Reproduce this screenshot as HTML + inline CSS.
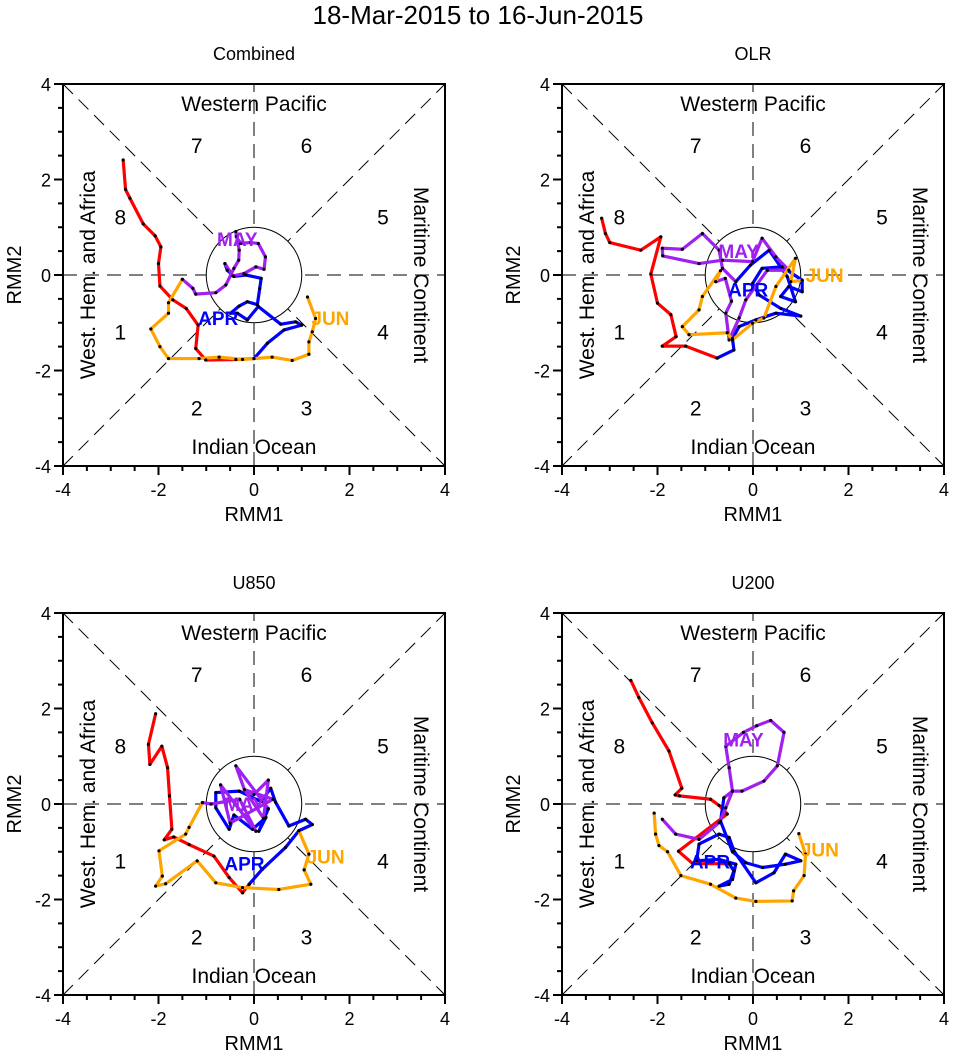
<!DOCTYPE html>
<html><head><meta charset="utf-8"><style>
body{margin:0;background:#fff}
svg text{font-family:"Liberation Sans",sans-serif;fill:#000}
</style></head><body>
<svg id="chart" width="956" height="1055" viewBox="0 0 956 1055" xmlns="http://www.w3.org/2000/svg">
<text x="478" y="24" font-size="26" text-anchor="middle">18-Mar-2015 to 16-Jun-2015</text>
</svg>
<script>
const panelTitles = ["Combined","OLR","U850","U200"];
const tickValues = [-4,-2,0,2,4];
const monthColors = ["#ff0000","#0000ff","#a020f0","#ffa500"];
const monthNames = ["MAR","APR","MAY","JUN"];
const p1Mar = [[-2.74,2.41],[-2.69,1.79],[-2.60,1.61],[-2.32,1.07],[-2.07,0.82],[-1.95,0.59],[-2.0,0.24],[-1.97,-0.23],[-1.70,-0.52],[-1.42,-0.70],[-1.17,-1.05],[-1.22,-1.54],[-1.01,-1.78],[-0.38,-1.77],[0,-1.75]];
const p1Apr = [[0,-1.75],[0.28,-1.43],[0.63,-1.15],[1.0,-1.05],[0.87,-0.98],[0.56,-1.03],[0.09,-0.66],[-0.14,-0.94],[-0.35,-0.80],[-0.49,-0.80],[-0.31,-0.65],[-0.14,-0.56],[0.07,-0.62],[0.12,-0.28],[0.15,-0.07],[-0.17,0.0],[-0.42,-0.03],[-0.56,0.10],[-0.61,0.24]];
const p1May = [[-0.61,0.24],[-0.44,-0.02],[-0.21,0.03],[0.04,0.17],[0.21,0.12],[0.24,0.38],[0.09,0.66],[-0.07,0.68],[-0.28,0.66],[-0.37,0.80],[-0.38,0.91],[-0.31,0.52],[-0.32,0.31],[-0.42,0.14],[-0.59,-0.21],[-0.80,-0.37],[-1.22,-0.40],[-1.28,-0.28],[-1.50,-0.09]];
const p1Jun = [[-1.50,-0.09],[-1.79,-0.58],[-1.79,-0.80],[-2.16,-1.13],[-1.97,-1.50],[-1.79,-1.75],[-1.15,-1.75],[-0.73,-1.72],[-0.24,-1.77],[0.38,-1.72],[0.80,-1.79],[1.15,-1.66],[1.15,-1.40],[1.22,-1.19],[1.29,-0.91],[1.12,-0.46]];
const p2Mar = [[-3.17,1.19],[-3.09,0.87],[-3.0,0.68],[-2.35,0.52],[-1.93,0.80],[-2.14,0.02],[-2.0,-0.59],[-1.72,-0.83],[-1.61,-1.29],[-1.90,-1.49],[-1.41,-1.49],[-0.75,-1.74]];
const p2Apr = [[-0.75,-1.74],[-0.40,-1.57],[-0.43,-1.33],[-0.29,-1.08],[0.06,-0.94],[0.48,-0.80],[1.0,-0.86],[0.58,-0.70],[0.13,-0.42],[-0.01,-0.18],[0.19,0.14],[0.61,0.17],[1.03,-0.11],[1.03,-0.35],[0.75,-0.24],[0.58,-0.45],[0.89,-0.56],[0.72,-0.04],[0.34,0.52],[-0.05,0.21],[-0.36,-0.14]];
const p2May = [[-0.36,-0.14],[-0.64,0.14],[-0.71,0.52],[-1.06,0.87],[-1.48,0.54],[-1.90,0.56],[-1.89,0.40],[-1.13,0.24],[-0.64,0.31],[-0.01,0.28],[0.19,0.77],[0.48,0.38],[0.75,0.10],[0.30,0.10],[-0.15,-0.52],[-0.29,-0.90],[-0.50,-1.36],[-0.57,-0.80],[-0.45,-0.55],[-0.58,-0.07],[-0.78,-0.14]];
const p2Jun = [[-0.78,-0.14],[-0.68,0.09],[-1.06,-0.45],[-1.13,-0.73],[-1.48,-1.08],[-1.34,-1.25],[-0.54,-1.21],[-0.43,-1.36],[-0.01,-1.01],[0.23,-0.90],[0.48,-0.24],[0.89,0.35],[0.79,-0.14],[1.03,-0.11]];
const p3Mar = [[-2.06,1.89],[-2.21,1.25],[-2.18,0.83],[-1.93,1.21],[-1.81,0.76],[-1.77,0.17],[-1.72,-0.53],[-1.88,-0.75],[-1.68,-0.69],[-1.36,-0.85],[-0.84,-1.09],[-0.52,-1.54],[-0.24,-1.86],[-0.10,-1.68]];
const p3Apr = [[-0.10,-1.68],[0.17,-1.37],[0.66,-0.91],[0.94,-0.56],[1.22,-0.43],[1.08,-0.32],[0.73,-0.46],[0.45,0.04],[0.35,0.33],[0.15,0.05],[-0.31,0.27],[-0.80,0.24],[-0.80,-0.08],[-0.52,-0.53],[-0.42,-0.23],[-0.03,-0.53],[0.25,-0.28],[0.10,-0.57],[0.30,-0.10]];
const p3May = [[0.30,-0.10],[-0.38,0.80],[-0.2,0.3],[0.0,0.2],[0.3,0.5],[0.2,-0.3],[-0.2,0.3],[0.4,0.1],[-0.5,-0.4],[-0.7,0.4],[0.04,-0.57],[-0.3,0.1],[-0.9,0.0],[-1.08,0.03]];
const p3Jun = [[-1.08,0.03],[-1.36,-0.49],[-1.43,-0.63],[-1.99,-0.98],[-1.92,-1.51],[-2.06,-1.72],[-1.85,-1.67],[-1.19,-1.19],[-0.80,-1.65],[-0.24,-1.75],[0.52,-1.79],[1.19,-1.68],[1.05,-1.38],[1.15,-1.05],[0.94,-0.56]];
const p4Mar = [[-2.56,2.59],[-2.39,2.23],[-2.11,1.70],[-1.76,1.11],[-1.49,0.33],[-1.63,0.19],[-1.54,0.17],[-0.89,0.10],[-0.71,-0.03],[-0.54,-0.21],[-1.56,-0.99],[-1.26,-1.25],[-0.50,-1.25]];
const p4Apr = [[-0.50,-1.25],[-0.40,-1.40],[-0.50,-1.68],[-0.71,-1.72],[-0.43,-1.58],[-0.36,-1.26],[-0.71,-1.16],[-1.18,-1.19],[-1.13,-0.84],[-0.71,-0.63],[-0.50,-0.70],[-0.40,-0.98],[0.06,-1.65],[0.44,-1.44],[0.68,-1.05],[1.0,-1.19],[0.68,-1.26],[0.20,-1.33],[-0.15,-1.23],[-0.43,-1.0],[-0.68,-0.36],[-0.61,0.13]];
const p4May = [[-0.61,0.13],[-0.43,0.27],[-0.23,0.27],[0.23,0.48],[0.51,0.80],[0.65,1.50],[0.37,1.75],[0.08,1.64],[-0.20,1.50],[-0.57,1.21],[-0.50,0.76],[-0.43,0.27],[-0.57,-0.08],[-0.71,-0.39],[-1.13,-0.74],[-1.62,-0.63],[-1.90,-0.32]];
const p4Jun = [[-2.07,-0.19],[-2.04,-0.63],[-1.97,-0.87],[-1.79,-1.0],[-1.51,-1.50],[-0.89,-1.68],[-0.36,-1.97],[0.06,-2.04],[0.82,-2.03],[0.85,-1.82],[1.07,-1.50],[1.10,-1.05],[0.96,-0.62]];
const monthLabelPos = [
 [null,[-0.75,-0.9],[-0.35,0.75],[1.6,-0.9]],
 [null,[-0.1,-0.3],[-0.3,0.5],[1.5,0]],
 [null,[-0.2,-1.25],[-0.2,0.0],[1.5,-1.1]],
 [null,[-0.9,-1.2],[-0.2,1.35],[1.4,-0.95]]
];
const series = [[p1Mar,p1Apr,p1May,p1Jun],[p2Mar,p2Apr,p2May,p2Jun],[p3Mar,p3Apr,p3May,p3Jun],[p4Mar,p4Apr,p4May,p4Jun]];

const NS="http://www.w3.org/2000/svg";
const svg=document.getElementById('chart');
function mk(tag,attrs,parent){const e=document.createElementNS(NS,tag);for(const k in attrs)e.setAttribute(k,attrs[k]);(parent||svg).appendChild(e);return e;}
const origins=[[63,84],[562,84],[63,613],[562,613]];
const SZ=382;
panelTitles.forEach((title,pi)=>{
  const [L,T]=origins[pi];
  const sx=v=>L+(v+4)/8*SZ, sy=v=>T+(4-v)/8*SZ;
  const g=mk('g',{});
  
  
  const t=mk('text',{x:L+SZ/2,y:T-24,'font-size':18,'text-anchor':'middle'},g);t.textContent=title;
  
  
  const dash={stroke:'#000','stroke-width':1,'stroke-dasharray':'14,8',fill:'none'};
  mk('line',Object.assign({x1:sx(-4),y1:sy(-4),x2:sx(4),y2:sy(4)},dash),g);
  mk('line',Object.assign({x1:sx(-4),y1:sy(4),x2:sx(4),y2:sy(-4)},dash),g);
  mk('line',Object.assign({x1:sx(0),y1:sy(-4),x2:sx(0),y2:sy(4)},dash),g);
  mk('line',Object.assign({x1:sx(-4),y1:sy(0),x2:sx(4),y2:sy(0)},dash),g);
  mk('circle',{cx:sx(0),cy:sy(0),r:SZ/8,fill:'#fff',stroke:'#000','stroke-width':1},g);
  const box=mk('rect',{x:L,y:T,width:SZ,height:SZ,fill:'none',stroke:'#000','stroke-width':2},g);
  
  
  for(let v=-4;v<=4.001;v+=0.5){
    const maj=Math.abs(v%2)<0.01, len=maj?9:5;
    mk('line',{x1:sx(v),y1:T+SZ,x2:sx(v),y2:T+SZ+len,stroke:'#000','stroke-width':2},g);
    mk('line',{x1:L,y1:sy(v),x2:L-len,y2:sy(v),stroke:'#000','stroke-width':2},g);
  }
  tickValues.forEach(v=>{
    const a=mk('text',{x:sx(v),y:T+SZ+30,'font-size':18,'text-anchor':'middle'},g);a.textContent=v;
    
    
    const b=mk('text',{x:L-12,y:sy(v)+7,'font-size':18,'text-anchor':'end'},g);b.textContent=v;
    
    
  });
  const xl=mk('text',{x:L+SZ/2,y:T+SZ+55,'font-size':20,'text-anchor':'middle'},g);xl.textContent='RMM1';
  
  
  const yl=mk('text',{x:0,y:0,'font-size':20,'text-anchor':'middle',transform:`translate(${L-42},${T+SZ/2}) rotate(-90)`},g);yl.textContent='RMM2';
  
  
  const reg=[['Western Pacific',sx(0),T+27,0],['Indian Ocean',sx(0),T+SZ-12,0]];
  reg.forEach(r=>{const e=mk('text',{x:r[1],y:r[2],'font-size':21,'text-anchor':'middle'},g);e.textContent=r[0];
    
    });
  const w=mk('text',{'font-size':21,'text-anchor':'middle',transform:`translate(${L+32},${T+SZ/2}) rotate(-90)`},g);w.textContent='West. Hem. and Africa';
  
  
  const m=mk('text',{'font-size':21,'text-anchor':'middle',transform:`translate(${L+SZ-31},${T+SZ/2}) rotate(90)`},g);m.textContent='Maritime Continent';
  
  
  const phases=[[1,-2.8,-1.2],[2,-1.2,-2.8],[3,1.1,-2.8],[4,2.7,-1.2],[5,2.7,1.2],[6,1.1,2.7],[7,-1.2,2.7],[8,-2.8,1.2]];
  phases.forEach(p=>{const e=mk('text',{x:sx(p[1]),y:sy(p[2])+7,'font-size':21,'text-anchor':'middle'},g);e.textContent=p[0];
    
    });
  series[pi].forEach((pts,mi)=>{
    const pl=mk('polyline',{points:pts.map(p=>sx(p[0])+','+sy(p[1])).join(' '),fill:'none',stroke:monthColors[mi],'stroke-width':3.2,'stroke-linejoin':'round'},g);
    
    
  });
  series[pi].forEach((pts)=>{
    pts.forEach(p=>{const d=mk('circle',{cx:sx(p[0]),cy:sy(p[1]),r:1.6,fill:'#000'},g);
      
      });
  });
  monthLabelPos[pi].forEach((pos,mi)=>{
    if(!pos)return;
    const e=mk('text',{x:sx(pos[0]),y:sy(pos[1])+7,'font-size':19,'font-weight':'bold','text-anchor':'middle',style:'fill:'+monthColors[mi]},g);
    e.textContent=monthNames[mi];
    
    
  });
});
</script>
</body></html>
